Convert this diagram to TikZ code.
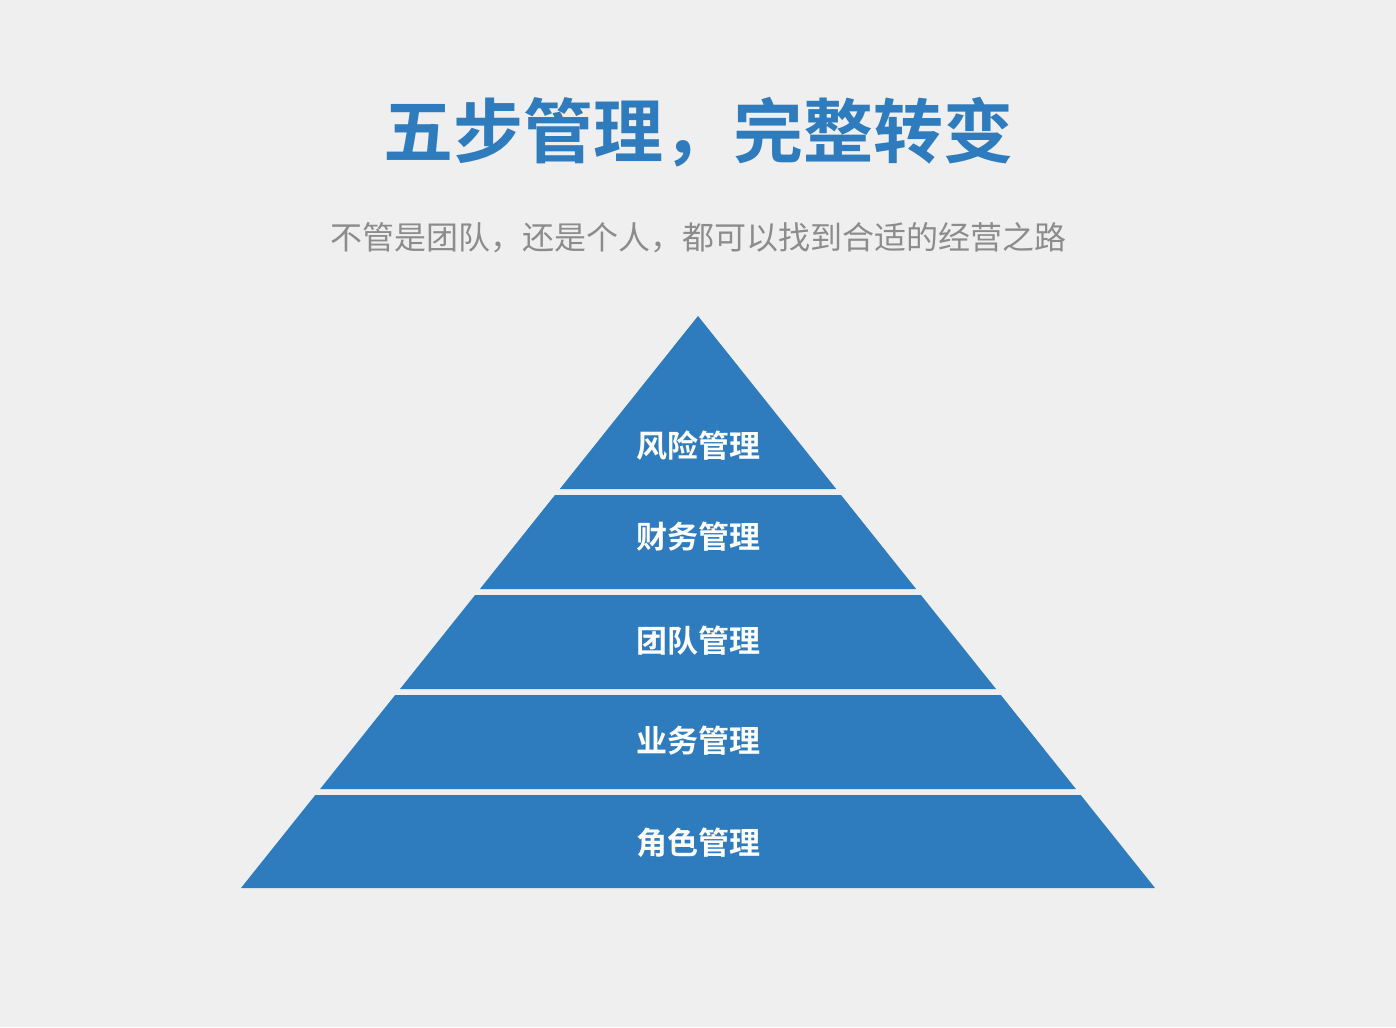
\documentclass[tikz,border=0pt]{standalone}
\usepackage{fontspec}
\newfontfamily\cjk{Noto Sans CJK SC}
\newfontfamily\cjkb{Noto Sans CJK SC Bold}
\definecolor{bgc}{HTML}{EFEFEF}
\definecolor{pblue}{HTML}{2E7BBD}
\definecolor{subgray}{HTML}{8C8C8C}
\tikzset{
  layer/.style={fill=pblue, draw=none},
  lbl/.style={text=white, font=\cjkb\fontsize{31}{31}\selectfont, inner sep=0pt, anchor=center},
}
\begin{document}
\begin{tikzpicture}[x=1pt, y=-1pt]
\fill[bgc] (0,0) rectangle (1396,1027);
\useasboundingbox (0,0) rectangle (1396,1027);
\node[text=pblue, font=\cjkb\fontsize{70}{70}\selectfont, inner sep=0pt] (title) at (698,132) {五步管理，完整转变};
\node[text=subgray, font=\cjk\fontsize{32}{32}\selectfont, inner sep=0pt] (sub) at (698,238) {不管是团队，还是个人，都可以找到合适的经营之路};
\fill[layer] (698,316) -- (836.2,489) -- (559.8,489) -- cycle;
\fill[layer] (555.0,495) -- (841.0,495) -- (916.1,589) -- (479.9,589) -- cycle;
\fill[layer] (475.1,595) -- (920.9,595) -- (996.0,689) -- (400.0,689) -- cycle;
\fill[layer] (395.2,695) -- (1000.8,695) -- (1075.9,789) -- (320.1,789) -- cycle;
\fill[layer] (315.3,795) -- (1080.7,795) -- (1155,888) -- (241,888) -- cycle;
\node[lbl] (l1) at (698,446) {风险管理};
\node[lbl] (l2) at (698,537) {财务管理};
\node[lbl] (l3) at (698,641) {团队管理};
\node[lbl] (l4) at (698,741) {业务管理};
\node[lbl] (l5) at (698,843) {角色管理};
\end{tikzpicture}
\end{document}
